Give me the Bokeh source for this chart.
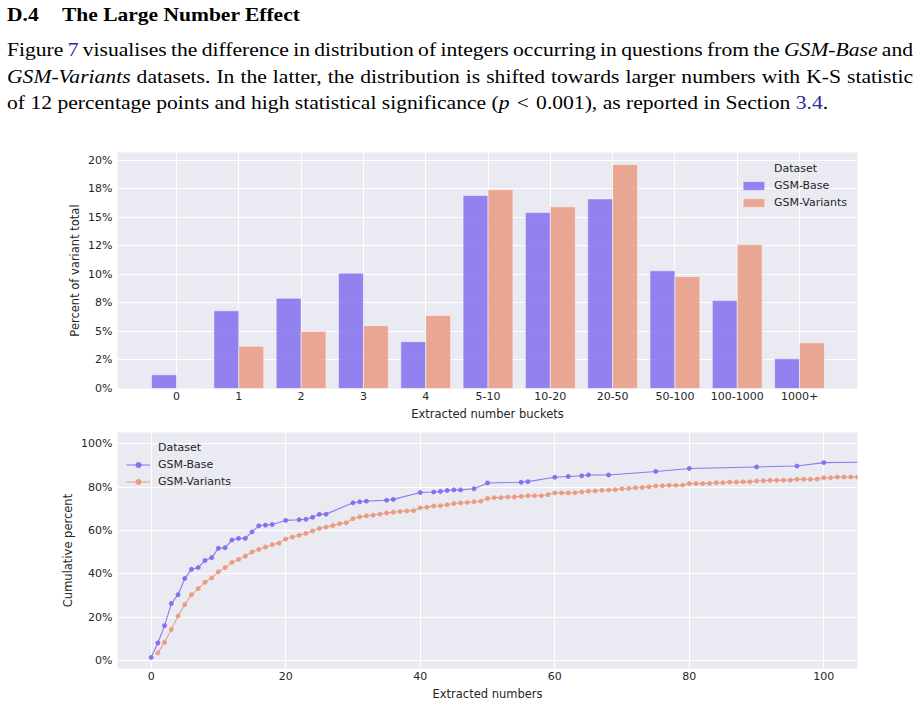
from bokeh.plotting import figure
from bokeh.models import (ColumnDataSource, Range1d, FixedTicker, Legend, LegendItem,
                          Div, PrintfTickFormatter)
from bokeh.transform import dodge
from bokeh.layouts import column
from bokeh.embed import file_html
from bokeh.resources import INLINE

# ---------------------------------------------------------------- text block
heading_num = "D.4"
heading_title = "The Large Number Effect"
link_color = "#2a2aa2"
para_lines = [
    f'Figure <span style="color:{link_color}">7</span> visualises the difference in distribution of '
    'integers occurring in questions from the <i>GSM-Base</i> and',
    '<i>GSM-Variants</i> datasets. In the latter, the distribution is shifted towards larger '
    'numbers with K-S statistic',
    'of 12 percentage points and high statistical significance '
    '(<i>p</i>&#8196;&lt;&#8196;0.001), as reported '
    f'in Section <span style="color:{link_color}">3.4</span>.',
]

# ---------------------------------------------------------------- bar chart data
buckets = ["0", "1", "2", "3", "4", "5-10", "10-20", "20-50", "50-100", "100-1000", "1000+"]
base_pct = [1.2, 6.8, 7.9, 10.1, 4.1, 16.9, 15.4, 16.6, 10.3, 7.7, 2.6]
variants_pct = [0.0, 3.7, 5.0, 5.5, 6.4, 17.4, 15.9, 19.6, 9.8, 12.6, 4.0]
pct_ticks = [0, 2.5, 5, 7.5, 10, 12.5, 15, 17.5, 20]
pct_tick_labels = ["0%", "2%", "5%", "8%", "10%", "12%", "15%", "18%", "20%"]

# ---------------------------------------------------------------- cumulative data
base_x = [0, 1, 2, 3, 4, 5, 6, 7, 8, 9, 10, 11, 12, 13, 14, 15, 16, 17, 18, 20, 22, 23, 24,
          25, 26, 30, 31, 32, 35, 36, 40, 42, 43, 44, 45, 46, 48, 50, 55, 56, 60, 62, 64, 65,
          68, 75, 80, 90, 96, 100, 120]
base_cum = [1.4, 8.1, 16.1, 26.3, 30.4, 37.9, 42.1, 42.9, 46.2, 47.5, 51.8, 52.1, 55.6, 56.4,
            56.4, 59.4, 62.2, 62.5, 62.8, 64.7, 65.0, 65.2, 66.1, 67.5, 67.6, 72.8, 73.3, 73.6,
            74.0, 74.4, 77.6, 77.8, 78.1, 78.5, 78.8, 78.8, 79.3, 82.0, 82.3, 82.6, 84.6, 85.0,
            85.3, 85.7, 85.7, 87.3, 88.7, 89.4, 89.8, 91.4, 91.9]

variants_x = list(range(1, 106))
variants_cum = [3.5, 8.4, 14.3, 20.6, 25.8, 30.4, 33.2, 36.1, 38.1, 41.0,
                42.9, 45.3, 46.7, 48.2, 50.1, 51.3, 52.4, 53.5, 54.2, 56.1,
                57.0, 57.8, 58.7, 59.8, 61.0, 61.6, 62.3, 63.2, 63.6, 65.5,
                66.3, 66.8, 67.1, 67.6, 68.1, 68.5, 68.8, 69.1, 69.2, 70.5,
                70.8, 71.3, 71.5, 71.9, 72.5, 72.8, 73.0, 73.3, 73.6, 74.8,
                75.2, 75.2, 75.5, 75.5, 75.8, 76.1, 76.1, 76.1, 76.6, 77.4,
                77.4, 77.4, 77.5, 77.8, 78.2, 78.3, 78.6, 78.7, 78.9, 79.3,
                79.4, 79.8, 79.9, 80.2, 80.6, 80.7, 80.9, 80.9, 81.0, 81.7,
                81.7, 81.7, 81.8, 82.1, 82.1, 82.4, 82.4, 82.5, 82.5, 82.9,
                83.0, 83.2, 83.2, 83.3, 83.3, 83.7, 83.7, 83.7, 83.8, 84.4,
                84.4, 84.7, 84.7, 84.7, 84.7]
num_ticks = [0, 20, 40, 60, 80, 100]
cum_ticks = [0, 20, 40, 60, 80, 100]

# ---------------------------------------------------------------- styling
BASE_COLOR = "#7B68EE"
VAR_COLOR = "#E9967A"
BG = "#EAEAF2"
INK = "#262626"
FONT = "DejaVu Sans"


def style_axes(p):
    for ax in p.axis:
        ax.axis_line_color = None
        ax.major_tick_line_color = None
        ax.minor_tick_line_color = None
        ax.major_tick_out = 0
        ax.major_tick_in = 0
        ax.major_label_text_font = FONT
        ax.major_label_text_font_size = "11px"
        ax.major_label_text_color = INK
        ax.axis_label_text_font = FONT
        ax.axis_label_text_font_size = "11.5px"
        ax.axis_label_text_font_style = "normal"
        ax.axis_label_text_color = INK
    p.xaxis.major_label_standoff = 3
    p.xaxis.axis_label_standoff = 4
    p.yaxis.major_label_standoff = 5
    p.yaxis.axis_label_standoff = 3
    p.grid.grid_line_color = "white"
    p.grid.grid_line_width = 1


def style_legend(lg, padding):
    lg.background_fill_alpha = 0
    lg.border_line_alpha = 0
    lg.label_text_font = FONT
    lg.label_text_font_size = "11px"
    lg.label_text_color = INK
    lg.label_height = 13
    lg.spacing = 4
    lg.margin = 0
    lg.padding = padding


# ---------------------------------------------------------------- top: bucket bars
positions = list(range(len(buckets)))
bar_src = ColumnDataSource(dict(pos=positions, base=base_pct, variants=variants_pct))

p1 = figure(width=920, height=285, output_backend="svg", toolbar_location=None,
            x_range=Range1d(-0.947, 10.93), y_range=Range1d(0, 20.66),
            min_border_left=117, min_border_right=63, min_border_top=12, min_border_bottom=37,
            background_fill_color=BG, border_fill_color="white", outline_line_color=None)

rb = p1.vbar(x=dodge("pos", -0.2), top="base", width=0.4, source=bar_src,
             fill_color=BASE_COLOR, fill_alpha=0.8, line_color="white", line_alpha=0.6,
             line_width=0.8)
rv = p1.vbar(x=dodge("pos", 0.2), top="variants", width=0.4, source=bar_src,
             fill_color=VAR_COLOR, fill_alpha=0.8, line_color="white", line_alpha=0.6,
             line_width=0.8)
hdr1 = p1.vbar(x=[], top=[], width=0.4, fill_alpha=0, line_alpha=0)

p1.xaxis.ticker = FixedTicker(ticks=positions)
p1.xaxis.major_label_overrides = {i: b for i, b in zip(positions, buckets)}
p1.xgrid.ticker = FixedTicker(ticks=positions)
p1.yaxis.ticker = FixedTicker(ticks=pct_ticks)
p1.yaxis.major_label_overrides = {t: s for t, s in zip(pct_ticks, pct_tick_labels)}
p1.ygrid.ticker = FixedTicker(ticks=pct_ticks)
p1.xaxis.axis_label = "Extracted number buckets"
p1.yaxis.axis_label = "Percent of variant total"
style_axes(p1)

lg1 = Legend(items=[LegendItem(label="Dataset", renderers=[hdr1]),
                    LegendItem(label="GSM-Base", renderers=[rb]),
                    LegendItem(label="GSM-Variants", renderers=[rv])],
             location="top_right", glyph_width=27, glyph_height=11, label_standoff=7)
style_legend(lg1, 10)
p1.add_layout(lg1)

# ---------------------------------------------------------------- bottom: cumulative lines
p2 = figure(width=920, height=279, output_backend="svg", toolbar_location=None,
            x_range=Range1d(-5, 105), y_range=Range1d(-3.7, 105.3),
            min_border_left=117, min_border_right=63, min_border_top=7, min_border_bottom=36,
            background_fill_color=BG, border_fill_color="white", outline_line_color=None)

lb = p2.line(base_x, base_cum, line_color=BASE_COLOR, line_width=1.1, line_alpha=0.85)
mb = p2.scatter(base_x, base_cum, size=4, marker="circle", fill_color=BASE_COLOR,
                line_color=BASE_COLOR, alpha=0.85)
lv = p2.line(variants_x, variants_cum, line_color=VAR_COLOR, line_width=1.1, line_alpha=0.85)
mv = p2.scatter(variants_x, variants_cum, size=4, marker="circle", fill_color=VAR_COLOR,
                line_color=VAR_COLOR, alpha=0.85)
hdr2 = p2.line([], [], line_alpha=0)

p2.xaxis.ticker = FixedTicker(ticks=num_ticks)
p2.xgrid.ticker = FixedTicker(ticks=num_ticks)
p2.yaxis.ticker = FixedTicker(ticks=cum_ticks)
p2.ygrid.ticker = FixedTicker(ticks=cum_ticks)
p2.yaxis.formatter = PrintfTickFormatter(format="%d%%")
p2.xaxis.axis_label = "Extracted numbers"
p2.yaxis.axis_label = "Cumulative percent"
style_axes(p2)

lg2 = Legend(items=[LegendItem(label="Dataset", renderers=[hdr2]),
                    LegendItem(label="GSM-Base", renderers=[lb, mb]),
                    LegendItem(label="GSM-Variants", renderers=[lv, mv])],
             location="top_left", glyph_width=24, glyph_height=13, label_standoff=8)
style_legend(lg2, 9)
p2.add_layout(lg2)

# ---------------------------------------------------------------- page text
line_style = ("position:absolute;left:7px;width:906px;font-size:21.6px;line-height:21.6px;"
              "transform:scaleY(0.86);transform-origin:0 0;")
tops = [41.0, 67.7, 93.8]
line_divs = []
for i, (txt, top) in enumerate(zip(para_lines, tops)):
    if i < len(para_lines) - 1:
        align = "text-align:justify;text-align-last:justify;word-spacing:-2px;"
    else:
        align = "text-align:left;"
    line_divs.append(f'<div style="{line_style}top:{top}px;{align}">{txt}</div>')

head_style = ("position:absolute;top:5.8px;font-size:21.5px;line-height:21.5px;font-weight:bold;"
              "white-space:nowrap;transform:scaleY(0.87);transform-origin:0 0;")
html = (
    "<div style=\"position:relative;width:920px;height:140px;"
    "font-family:'Liberation Serif','Times New Roman',serif;color:#000;\">"
    f'<div style="{head_style}left:7px;">{heading_num}</div>'
    f'<div style="{head_style}left:62px;">{heading_title}</div>'
    + "".join(line_divs)
    + "</div>"
)
text_block = Div(text=html, width=920, height=140, margin=0)

layout = column(text_block, p1, p2, spacing=0, margin=0)

with open("out.html", "w") as f:
    f.write(file_html(layout, INLINE, title="Large number effect"))
